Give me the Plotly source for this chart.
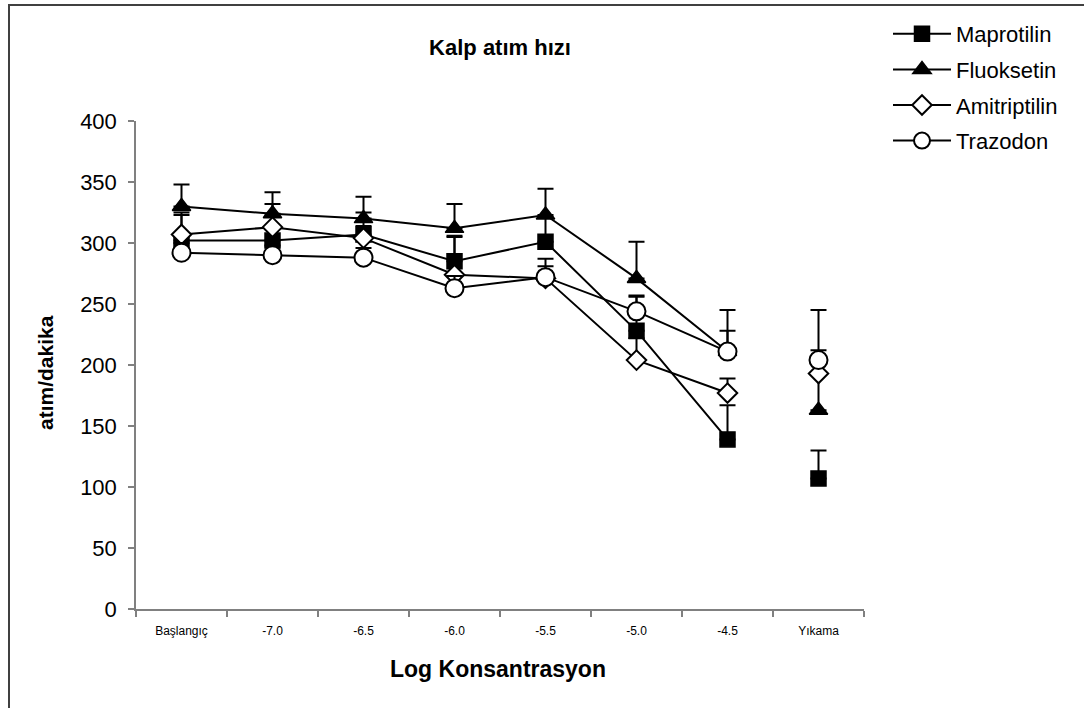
import plotly.graph_objects as go

# Categories on the x axis
categories = ["Başlangıç", "-7.0", "-6.5", "-6.0", "-5.5", "-5.0", "-4.5", "Yıkama"]

# Heart rate (beats/min) per drug
maprotilin = [302, 302, 307, 285, 301, 228, 139, 107]
fluoksetin = [330, 324, 320, 312, 323, 271, 211, 163]
amitriptilin = [307, 313, 304, 274, 271, 204, 177, 193]
trazodon = [292, 290, 288, 263, 272, 244, 211, 204]

# Upper error bar lengths
maprotilin_err = [23, 20, 18, 21, 20, 29, 28, 23]
fluoksetin_err = [18, 17.5, 18, 20, 21.5, 30, 34, 82]
amitriptilin_err = [16, 19, 10, 31, 10, 18, 12, 10]
trazodon_err = [8, 8, 8, 10, 15, 12, 17, 8]

series_names = ["Maprotilin", "Fluoksetin", "Amitriptilin", "Trazodon"]

FONT = "Arial, Liberation Sans, sans-serif"

# plot area in pixels
W, H = 1084, 708
L, R, T, B = 136, 220, 121, 99
PW, PH = W - L - R, H - T - B


def px_x(px):
    return (px - L) / PW


def px_y(py):
    return (H - B - py) / PH


styles = [
    dict(symbol="square", size=15, color="black", line=dict(color="black", width=1.5)),
    dict(symbol="triangle-up", size=16, color="black", line=dict(color="black", width=1.5)),
    dict(symbol="diamond", size=15, color="white", line=dict(color="black", width=2)),
    dict(symbol="circle", size=18, color="white", line=dict(color="black", width=2)),
]

fig = go.Figure()
for i, (name, vals, errs) in enumerate(zip(
        series_names,
        [maprotilin, fluoksetin, amitriptilin, trazodon],
        [maprotilin_err, fluoksetin_err, amitriptilin_err, trazodon_err])):
    # the washout point is not joined to the concentration series
    fig.add_trace(go.Scatter(
        x=categories[:7], y=vals[:7], name=name, mode="lines+markers",
        legendgroup=name,
        line=dict(color="black", width=2),
        marker=styles[i],
        error_y=dict(type="data", array=errs[:7], arrayminus=[0] * 7,
                     symmetric=False, color="black", thickness=2, width=8),
    ))
    fig.add_trace(go.Scatter(
        x=categories[7:], y=vals[7:], name=name, mode="markers",
        legendgroup=name, showlegend=False,
        marker=styles[i],
        error_y=dict(type="data", array=errs[7:], arrayminus=[0],
                     symmetric=False, color="black", thickness=2, width=8),
    ))

fig.update_layout(
    width=W, height=H,
    margin=dict(l=L, r=R, t=T, b=B),
    paper_bgcolor="white", plot_bgcolor="white",
    font=dict(family=FONT, color="black"),
    showlegend=True,
    legend=dict(
        x=px_x(888), y=px_y(13), xanchor="left", yanchor="top",
        font=dict(size=22, family=FONT), tracegroupgap=4,
        bgcolor="rgba(0,0,0,0)", itemwidth=58,
    ),
    title=dict(text="<b>Kalp atım hızı</b>", x=0.5, xref="paper",
               y=1 - 47 / H, yanchor="middle", yref="container",
               font=dict(size=22, family=FONT)),
    xaxis=dict(
        type="category", categoryorder="array", categoryarray=categories,
        range=[-0.5, 7.5], showgrid=False, zeroline=False,
        showline=True, linecolor="#808080", linewidth=1.5,
        ticks="outside", tickson="boundaries", ticklen=6,
        tickcolor="#808080", tickwidth=1.5,
        tickfont=dict(size=12, family=FONT), ticklabelstandoff=10,
    ),
    yaxis=dict(
        range=[0, 400], dtick=50, showgrid=False, zeroline=False,
        showline=True, linecolor="#808080", linewidth=1.5,
        ticks="outside", ticklen=6, tickcolor="#808080", tickwidth=1.5,
        tickfont=dict(size=22, family=FONT), ticklabelstandoff=7,
    ),
    annotations=[
        dict(text="<b>atım/dakika</b>", x=px_x(45), y=px_y(373),
             xref="paper", yref="paper", xanchor="center", yanchor="middle",
             showarrow=False, textangle=-90,
             font=dict(size=21, family=FONT)),
        dict(text="<b>Log Konsantrasyon</b>", x=px_x(498), y=px_y(669),
             xref="paper", yref="paper", xanchor="center", yanchor="middle",
             showarrow=False,
             font=dict(size=23, family=FONT)),
    ],
    shapes=[
        dict(type="rect", xref="paper", yref="paper",
             x0=px_x(9), x1=px_x(1200), y0=px_y(800), y1=px_y(5),
             line=dict(color="#404040", width=2), fillcolor="rgba(0,0,0,0)",
             layer="below"),
    ],
)

fig.write_html("out.html")
